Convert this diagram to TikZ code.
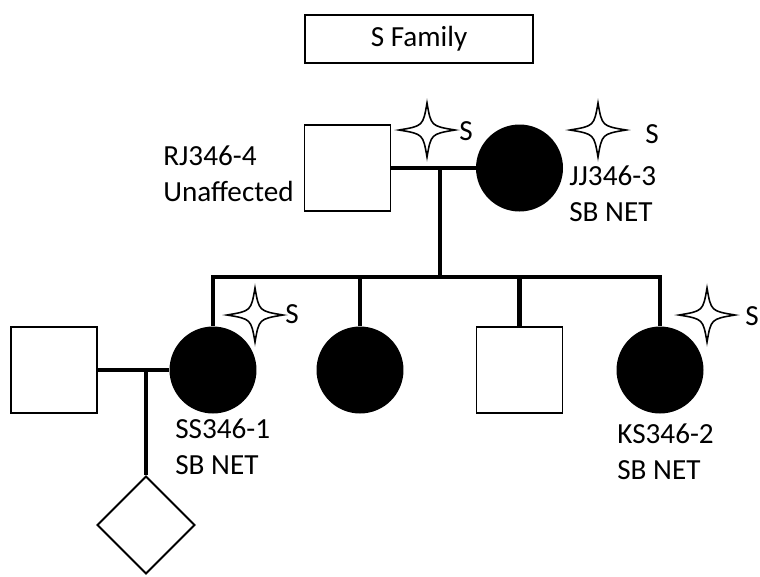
\documentclass[tikz,border=0pt]{standalone}
\usepackage{fontspec}
\setmainfont{Carlito}
\usetikzlibrary{shapes.geometric}
\newcommand{\symsize}{1.72cm}
\newcommand{\linethick}{2.3pt}
\newcommand{\boxthick}{1.1pt}

\begin{document}
\begin{tikzpicture}[x=0.02cm,y=-0.02cm,
  every node/.style={font=\fontsize{16.6}{20.5}\selectfont},
  male/.style={draw,line width=\boxthick,minimum size=\symsize,inner sep=0pt},
  female/.style={circle,fill,minimum size=1.74cm,inner sep=0pt},
  unknown/.style={diamond,draw,line width=\boxthick,minimum size=1.96cm,inner sep=0pt},
  idtext/.style={anchor=north west,align=left,inner sep=0pt},
  stext/.style={anchor=west,inner sep=0pt},
  link/.style={line width=\linethick},
  carrier/.pic={\draw[fill=white,line width=0.9pt] (0,-27) .. controls (4,-4) .. (28,0) .. controls (4,4) .. (0,27) .. controls (-4,4) .. (-28,0) .. controls (-4,-4) .. cycle;}]
\useasboundingbox (0,0) rectangle (760,576);
%title
\node[draw,line width=\boxthick,minimum width=4.56cm,minimum height=0.96cm] (0) at (419,39) {S Family};
%parents
\node[male] (1) at (347.5,168) {};
\node[female] (2) at (519.5,168) {};
\coordinate (m1) at (440,168);
\coordinate (s) at (440,277);
%children
\node[female] (3) at (213,370) {};
\node[female] (4) at (360,370) {};
\node[male] (5) at (519.5,370) {};
\node[female] (6) at (660,370) {};
%spouse and child
\node[male] (7) at (54,370) {};
\node[unknown] (8) at (146,525) {};
%lines
\draw[link] (1.east) -- (2.west);
\draw[link] (m1) -- (s);
\draw[link] (3.north) -- (3 |- s) -- (6 |- s) -- (6.north);
\draw[link] (4.north) -- (4 |- s);
\draw[link] (5.north) -- (5 |- s);
\draw[link] (7.east) -- (3.west);
\draw[link] (8 |- 7) -- (8.north);
%labels
\node[idtext] (l1) at (163,145) {RJ346-4\\Unaffected};
\node[idtext] (l2) at (569,165) {JJ346-3\\SB NET};
\node[idtext] (l3) at (175,418) {SS346-1\\SB NET};
\node[idtext] (l6) at (617,423) {KS346-2\\SB NET};
%stars
\pic at (427,130) {carrier};
\node[stext] (s1) at (459,131) {S};
\pic at (598,130) {carrier};
\node[stext] (s2) at (645,134) {S};
\pic at (255,315) {carrier};
\node[stext] (s3) at (285,314) {S};
\pic at (707,315) {carrier};
\node[stext] (s6) at (745,316) {S};
\end{tikzpicture}
\end{document}
